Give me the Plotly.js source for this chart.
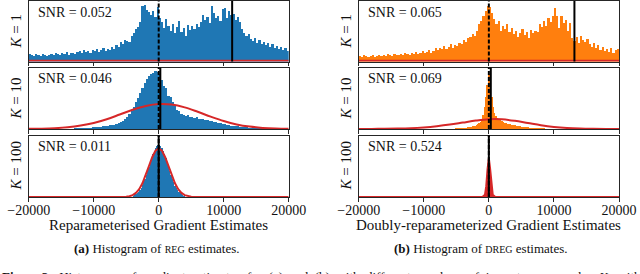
<!DOCTYPE html>
<html><head><meta charset="utf-8">
<script src="https://cdn.plot.ly/plotly-3.0.1.min.js"></script>
<style>html,body{margin:0;padding:0;background:#fff;overflow:hidden}#chart{width:640px;height:274px}</style>
</head><body><div id="chart"></div>
<script>
// ---------------- DATA ----------------
// Histogram bin layouts: [first bin left edge, bin width]
const binsK1 = [-20000, 333.33];
const binsRegK10 = [-20000, 333.33];
const binsDregK10 = [-6000, 200];
const binsRegK100 = [-4000, 200];
const binsDregK100 = [-75, 150];

// Histogram heights (arbitrary density units)
const regK1 = [8,7,6,8,7,6,8,7,6,7,
  8,7,9,8,7,9,8,10,7,9,
  9,8,10,11,9,12,10,11,9,12,
  11,13,10,12,14,11,13,12,15,13,
  17,15,20,18,22,21,20,26,29,33,
  35,40,56,57,52,50,47,51,45,55,
  44,40,34,43,36,31,38,29,35,41,
  30,34,26,37,32,36,33,38,35,40,
  47,42,45,39,56,49,44,46,41,53,
  54,44,51,47,48,42,45,40,33,29,
  26,28,23,21,24,19,22,18,20,17,
  19,15,18,14,16,13,15,12,14,11];
const dregK1 = [6,5,7,6,5,6,7,5,6,7,
  6,7,6,8,7,6,8,7,7,8,
  7,9,8,7,9,8,10,8,9,11,
  9,10,12,9,11,14,12,14,13,16,
  13,15,18,14,17,16,19,18,22,20,
  24,25,28,26,31,38,41,46,51,56,
  55,49,43,38,41,31,36,33,38,30,
  34,28,31,25,29,33,27,30,24,32,
  29,31,30,38,35,41,36,44,40,46,
  54,46,34,46,39,42,31,39,24,21,
  25,19,26,22,20,23,18,15,19,14,
  17,12,15,11,13,10,14,9,12,13];
const regK10 = [0,0,0,0,0,0,0,0,0,0,
  0,0,0,0,0,0,0.3,0.3,0.4,0.5,
  0.5,0.6,0.7,0.8,1,1,1.2,1.1,1.5,1.6,
  1.8,2.1,2,2.5,2.8,3.2,3,3.6,4.1,4.5,
  5.2,6,7.2,8.5,10,12,15,18,22,27,
  31,36,41,46,50,53,55,56,58,57,
  55,49,43,41,33,32,27,24,19,18,
  15,14.5,13,13.8,12.2,12.5,11,11.6,10.5,10.2,
  9.8,8.7,8.9,7.6,7.8,6.8,6.9,5.8,5.9,4.9,
  5,4.2,4.1,3.5,3.4,2.9,2.8,2.3,2.1,1.8,
  1.6,1.4,1.3,1.2,1.1,1,0.9,0.8,0.7,0.6,
  0.5,0.4,0.4,0.3,0.3,0.3,0.2,0.2,0.2,0.2];
const dregK10 = [0.3,0.4,0.4,0.5,0.6,0.6,0.7,0.8,0.9,1,
  1.1,1.3,1.4,1.6,1.8,2,2.3,2.6,3,3.4,
  4,4.8,5.7,7,9,14,22,32,44,54,
  55,46,32,22,16,13,11.5,10.5,9.5,8.5,
  8,7.2,6.5,6,5.5,5,4.7,4.4,4.1,3.8,
  3.6,3.3,3.1,2.9,2.7,2.5,2.3,2.1,2,1.8,
  1.7,1.5,1.4,1.3,1.2,1.1,1,0.9,0.8,0.75,
  0.7,0.6,0.55,0.5,0.45,0.4,0.35,0.3,0.3,0.25];
const regK100 = [1.2,2.1,2.7,4.0,5.1,7.2,9.0,12.1,14.6,18.5,
  21.8,26.5,30.2,35.1,38.7,43.2,46.0,49.3,50.6,52.1,
  51.8,50.9,48.6,46.5,42.6,39.3,34.5,30.8,26.0,22.3,
  18.0,14.9,11.5,9.4,6.8,5.3,3.8,2.9,1.9,1.3];
const dregK100 = [61];

// Fitted Gaussian curves (red)
const fitXK1 = [-20000,-10000,0,10000,20000];
const regFitK1 = [0.7,0.8,0.8,0.8,0.7];
const dregFitK1 = [0.7,0.8,0.8,0.8,0.7];
const fitXK10 = [-20000,-18000,-16000,-14000,-12000,-10000,-8000,-6000,-4000,-2000,0,2000,4000,6000,8000,10000,12000,14000,16000,18000,20000];
const regFitK10 = [0.15,0.35,0.8,1.7,3.4,6,9.8,14.5,19.3,23,24.9,24.4,21.6,17.2,12.4,8,4.6,2.4,1.1,0.45,0.2];
const dregFitK10 = [0.05,0.1,0.2,0.4,0.8,1.6,2.8,4.4,6.4,8.4,9.8,9.7,8.2,6,3.8,2.1,1,0.45,0.2,0.08,0.03];
const fitXRegK100 = [-20000,-8000,-6000,-5000,-4500,-4000,-3500,-3000,-2500,-2000,-1500,-1000,-500,0,500,1000,1500,2000,2500,3000,3500,4000,4500,5000,6000,8000,20000];
const regFitK100 = [0,0,0.05,0.3,0.8,1.9,4.1,7.8,13.7,21.6,30.9,39.8,46.3,48.7,46.3,39.8,30.9,21.6,13.7,7.8,4.1,1.9,0.8,0.3,0.05,0,0];
const fitXDregK100 = [-20000,-1000,-600,-400,-200,0,200,400,600,1000,20000];
const dregFitK100 = [0,0,2.2,10.8,28,38.7,28,10.8,2.2,0,0];

// Vertical reference lines: dashed = true gradient, solid = estimate
const trueGradient = [0,0,0,0,0,0];
const estimateLine = [11300,250,0,13150,300,0];

// Texts
const snrValues = ['0.052','0.046','0.011','0.065','0.069','0.524'];
const kValues = ['1','10','100'];
const tickVals = [-20000,-10000,0,10000,20000];
const tickText = ['\u221220000','\u221210000','0','10000','20000'];
const xTitles = ['Reparameterised Gradient Estimates','Doubly-reparameterized Gradient Estimates'];
const captions = ['<b>(a)</b> Histogram of <span style="font-size:10px">REG</span> estimates.',
                  '<b>(b)</b> Histogram of <span style="font-size:10px">DREG</span> estimates.'];

// ---------------- LAYOUT ----------------
const W = 640, H = 274;
const cols = [[28.7, 288.7], [358.7, 619]];
const rows = [[1, 61.5], [67.5, 129], [135.5, 197]];
const BLUE = '#1f77b4', ORANGE = '#ff7f0e', RED = '#d62728', FRAME = '#262626';
const FONT = 'Liberation Serif, Times New Roman, Times, serif';

const panels = [
  {bins: binsK1, h: regK1, c: BLUE, fx: fitXK1, fy: regFitK1},
  {bins: binsRegK10, h: regK10, c: BLUE, fx: fitXK10, fy: regFitK10, spline: true},
  {bins: binsRegK100, h: regK100, c: BLUE, fx: fitXRegK100, fy: regFitK100},
  {bins: binsK1, h: dregK1, c: ORANGE, fx: fitXK1, fy: dregFitK1},
  {bins: binsDregK10, h: dregK10, c: ORANGE, fx: fitXK10, fy: dregFitK10, spline: true},
  {bins: binsDregK100, h: dregK100, c: ORANGE, fx: fitXDregK100, fy: dregFitK100, fill: true},
];

const data = [];
const layout = {
  width: W, height: H, margin: {l: 0, r: 0, t: 0, b: 0},
  paper_bgcolor: '#fff', plot_bgcolor: '#fff',
  showlegend: false, barmode: 'overlay', bargap: 0,
  shapes: [], annotations: [],
  font: {family: FONT, color: '#111'}
};

panels.forEach((p, i) => {
  const n = i + 1;
  const col = Math.floor(i / 3), row = i % 3;
  const xa = 'x' + (n === 1 ? '' : n), ya = 'y' + (n === 1 ? '' : n);
  const xk = 'xaxis' + (n === 1 ? '' : n), yk = 'yaxis' + (n === 1 ? '' : n);
  const [px0, px1] = cols[col];
  const [py0, py1] = rows[row];
  layout[xk] = {
    domain: [px0 / W, px1 / W], range: [-20000, 20000], anchor: ya,
    showline: true, mirror: true, linecolor: FRAME, linewidth: 1,
    ticks: 'outside', ticklen: 3.5, tickwidth: 1, tickcolor: FRAME,
    tickmode: 'array', tickvals: tickVals, ticktext: tickText,
    showticklabels: row === 2, ticklabelstandoff: -3,
    tickfont: {family: FONT, size: 14, color: '#111'},
    showgrid: false, zeroline: false, fixedrange: true
  };
  layout[yk] = {
    domain: [(H - py1) / H, (H - py0) / H], range: [0, py1 - py0], anchor: xa,
    showline: true, mirror: true, linecolor: FRAME, linewidth: 1,
    ticks: '', showticklabels: false, showgrid: false, zeroline: false, fixedrange: true
  };
  // histogram
  data.push({
    type: 'bar', x0: p.bins[0] + p.bins[1] / 2, dx: p.bins[1], width: p.bins[1], y: p.h,
    xaxis: xa, yaxis: ya, marker: {color: p.c, line: {width: 0}}, hoverinfo: 'skip'
  });
  // fitted gaussian
  const fit = {
    type: 'scatter', mode: 'lines', x: p.fx, y: p.fy, xaxis: xa, yaxis: ya,
    line: {color: RED, width: 2, shape: p.spline ? 'spline' : 'linear'}, hoverinfo: 'skip'
  };
  if (p.fill) { fit.fill = 'tozeroy'; fit.fillcolor = RED; }
  data.push(fit);
  // vertical lines
  layout.shapes.push({type: 'line', xref: xa, yref: ya + ' domain', x0: estimateLine[i], x1: estimateLine[i], y0: 0, y1: 1,
    line: {color: '#000', width: 2}});
  layout.shapes.push({type: 'line', xref: xa, yref: ya + ' domain', x0: trueGradient[i], x1: trueGradient[i], y0: 0, y1: 1,
    line: {color: '#000', width: 2, dash: '4px,2px'}});
  // SNR label
  layout.annotations.push({xref: xa + ' domain', yref: ya + ' domain', x: 0.028, y: 1 - 11.3 / (py1 - py0),
    xanchor: 'left', yanchor: 'middle', showarrow: false, text: 'SNR = ' + snrValues[i],
    font: {family: FONT, size: 14, color: '#111'}});
  // K label
  layout.annotations.push({xref: 'paper', yref: 'paper', x: (px0 - 12.5) / W, y: (H - (py0 + py1) / 2) / H,
    xanchor: 'center', yanchor: 'middle', showarrow: false, textangle: -90,
    text: '<i>K</i> = ' + kValues[row], font: {family: FONT, size: 15, color: '#111'}});
});

// x titles and captions
[0, 1].forEach(c => {
  const [px0, px1] = cols[c];
  layout.annotations.push({xref: 'paper', yref: 'paper', x: (px0 + px1) / 2 / W, y: (H - 225) / H,
    xanchor: 'center', yanchor: 'middle', showarrow: false, text: xTitles[c],
    font: {family: FONT, size: 15, color: '#111'}});
  layout.annotations.push({xref: 'paper', yref: 'paper', x: (c === 0 ? 156.5 : 480) / W, y: (H - 248) / H,
    xanchor: 'center', yanchor: 'middle', showarrow: false, text: captions[c],
    font: {family: FONT, size: 13, color: '#111'}});
});
layout.annotations.push({xref: 'paper', yref: 'paper', x: 0, y: (H - 267) / H,
  xanchor: 'left', yanchor: 'top', showarrow: false,
  text: '<b>Figure 3:</b>  Histograms  of  gradient  estimates  for  (a)  and  (b)  with  different  numbers  of  importance  samples  <i>K</i>,  with  the',
  font: {family: FONT, size: 13, color: '#111'}});

Plotly.newPlot('chart', data, layout, {displayModeBar: false, staticPlot: true});
</script>
</body></html>
